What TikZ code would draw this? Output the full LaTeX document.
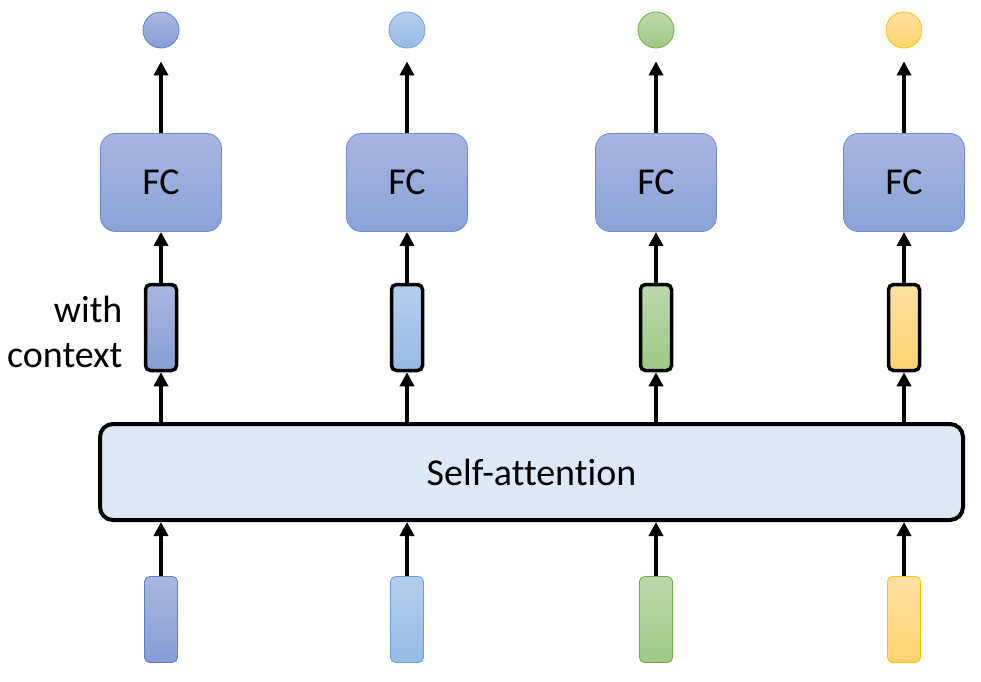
\documentclass[tikz,border=0pt]{standalone}
\usepackage{fontspec}
\setmainfont{Carlito}[Ligatures=NoCommon]
\usetikzlibrary{arrows.meta}
\definecolor{aT}{RGB}{170,183,223}\definecolor{aB}{RGB}{134,158,214}\definecolor{aD}{RGB}{95,125,200}
\definecolor{bT}{RGB}{182,206,236}\definecolor{bB}{RGB}{150,186,230}\definecolor{bD}{RGB}{105,160,220}
\definecolor{cT}{RGB}{187,216,172}\definecolor{cB}{RGB}{158,201,133}\definecolor{cD}{RGB}{112,173,71}
\definecolor{dT}{RGB}{255,224,163}\definecolor{dB}{RGB}{255,211,110}\definecolor{dD}{RGB}{255,192,0}
\definecolor{saFill}{RGB}{221,233,247}
\definecolor{fcT}{RGB}{168,182,224}\definecolor{fcB}{RGB}{138,162,218}\definecolor{fcD}{RGB}{110,140,205}
\begin{document}
\begin{tikzpicture}[x=1pt,y=-1pt,
  txt/.style={font=\fontsize{38}{45}\selectfont},
  arr/.style={line width=4.8pt,-{Triangle[length=14pt,width=14pt]}},
  circ/.style={circle,minimum size=36pt,inner sep=0pt,line width=0.8pt},
  fcbox/.style={rectangle,rounded corners=15pt,minimum width=121pt,minimum height=98pt,
     top color=fcT,bottom color=fcB,draw=fcD,line width=0.8pt,txt},
  ctxbox/.style={rectangle,rounded corners=5pt,minimum width=31pt,minimum height=86pt,
     draw=black,line width=3.5pt,inner sep=0pt},
  inbox/.style={rectangle,rounded corners=5pt,minimum width=33pt,minimum height=86pt,
     line width=0.8pt,inner sep=0pt},
  colA/.style={top color=aT,bottom color=aB,draw=aD},
  colB/.style={top color=bT,bottom color=bB,draw=bD},
  colC/.style={top color=cT,bottom color=cB,draw=cD},
  colD/.style={top color=dT,bottom color=dB,draw=dD},
  sabox/.style={rectangle,rounded corners=13pt,minimum width=863pt,minimum height=96pt,
     fill=saFill,draw=black,line width=4pt,txt}
]
\useasboundingbox (0,0) rectangle (981,681);
% self-attention
\node[sabox] (sa) at (531.5,472) {Self-attention};
\node[txt,anchor=east,align=right] (lbl) at (126,332) {with\\context};
\foreach \i/\x/\c in {1/161/colA,2/407/colB,3/656/colC,4/904/colD}{
  \node[circ,\c] (o\i) at (\x,30) {};
  \node[fcbox] (fc\i) at (\x,182.5) {FC};
  \node[ctxbox,\c,draw=black] (h\i) at (\x,327.5) {};
  \node[inbox,\c] (x\i) at (\x,619.5) {};
  \draw[arr] (x\i.north) -- (x\i.north |- sa.south);
  \draw[arr] (sa.north -| h\i.south) -- (h\i.south);
  \draw[arr] (h\i.north) -- (fc\i.south);
  \draw[arr,shorten >=13pt] (fc\i.north) -- (o\i.south);
}
\end{tikzpicture}
\end{document}
